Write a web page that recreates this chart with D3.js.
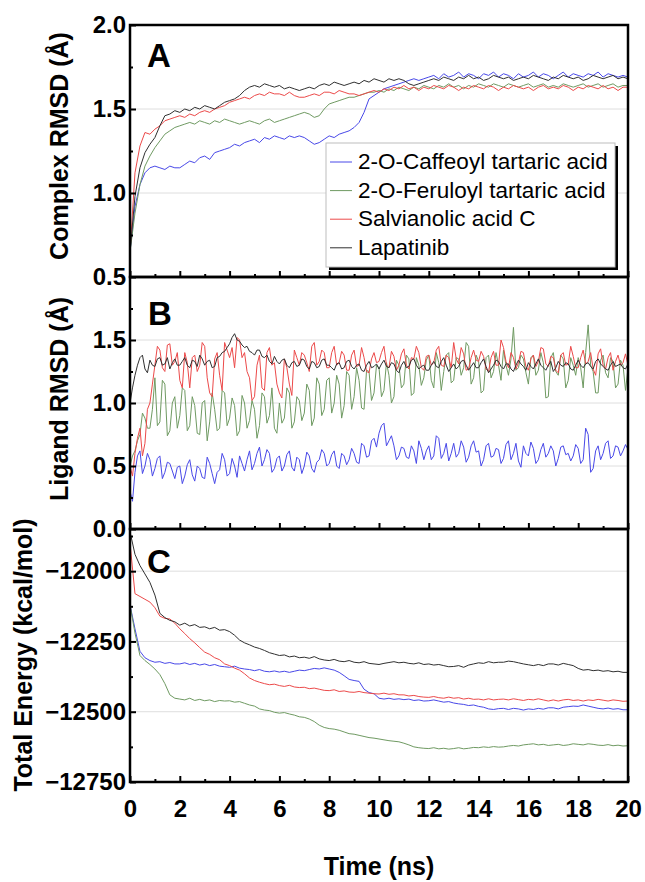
<!DOCTYPE html>
<html><head><meta charset="utf-8">
<script src="https://cdn.jsdelivr.net/npm/d3@7"></script>
<style>html,body{margin:0;padding:0;background:#fff;} svg{display:block;}</style>
</head><body>
<svg id="chart" width="645" height="882"></svg>
<script>
// ---------- DATA ----------
const timeNs = d3.range(101).map(i => +(i * 0.2).toFixed(1));        // panels A and C sampling grid (ns)
const ligandTimeNs = d3.range(201).map(i => +(i * 0.1).toFixed(1));  // panel B sampling grid (ns)
const seriesNames = ["2-O-Caffeoyl tartaric acid", "2-O-Feruloyl tartaric acid", "Salvianolic acid C", "Lapatinib"];
const xTickValues = [0, 2, 4, 6, 8, 10, 12, 14, 16, 18, 20];
const complexTickLabels = [0.5, 1.0, 1.5, 2.0];
const ligandTickLabels = [0.0, 0.5, 1.0, 1.5];
const energyTickLabels = [-12750, -12500, -12250, -12000];

// Panel A: Complex RMSD (Å)
const complexCaffeoyl = [0.65,0.92,1.05,1.12,1.15,1.16,1.15,1.14,1.16,1.15,
1.15,1.17,1.19,1.18,1.21,1.22,1.20,1.24,1.25,1.26,
1.27,1.29,1.28,1.30,1.31,1.32,1.30,1.33,1.32,1.34,
1.33,1.32,1.34,1.33,1.34,1.33,1.31,1.29,1.30,1.32,
1.34,1.33,1.35,1.36,1.37,1.39,1.42,1.48,1.56,1.58,
1.60,1.62,1.63,1.64,1.65,1.66,1.67,1.68,1.67,1.68,
1.69,1.70,1.68,1.71,1.69,1.70,1.72,1.69,1.71,1.70,
1.68,1.71,1.70,1.72,1.69,1.71,1.70,1.68,1.71,1.69,
1.70,1.72,1.69,1.71,1.70,1.68,1.70,1.72,1.69,1.71,
1.70,1.69,1.71,1.70,1.72,1.69,1.71,1.70,1.69,1.70,
1.69];
const complexFeruloyl = [0.65,0.88,1.05,1.16,1.22,1.27,1.31,1.35,1.37,1.39,
1.40,1.41,1.42,1.41,1.43,1.42,1.41,1.43,1.42,1.44,
1.43,1.42,1.41,1.42,1.43,1.42,1.41,1.43,1.44,1.42,
1.43,1.44,1.45,1.46,1.47,1.48,1.47,1.45,1.46,1.50,
1.53,1.54,1.55,1.56,1.57,1.57,1.58,1.59,1.60,1.60,
1.61,1.60,1.62,1.61,1.63,1.62,1.61,1.63,1.62,1.64,
1.63,1.62,1.64,1.63,1.65,1.63,1.64,1.62,1.64,1.63,
1.65,1.64,1.63,1.65,1.64,1.63,1.65,1.64,1.63,1.64,
1.65,1.63,1.64,1.65,1.63,1.64,1.63,1.65,1.64,1.63,
1.64,1.65,1.63,1.64,1.65,1.63,1.64,1.65,1.63,1.64,
1.64];
const complexSalvianolic = [0.65,1.12,1.28,1.36,1.35,1.38,1.40,1.43,1.44,1.45,
1.46,1.45,1.47,1.46,1.48,1.49,1.48,1.50,1.51,1.52,
1.54,1.55,1.56,1.57,1.56,1.58,1.59,1.58,1.60,1.59,
1.59,1.58,1.60,1.58,1.57,1.57,1.58,1.59,1.58,1.60,
1.60,1.59,1.61,1.60,1.59,1.59,1.58,1.59,1.60,1.61,
1.60,1.62,1.61,1.63,1.62,1.64,1.62,1.63,1.61,1.63,
1.62,1.64,1.63,1.62,1.64,1.63,1.61,1.63,1.62,1.64,
1.63,1.62,1.64,1.63,1.61,1.63,1.62,1.64,1.63,1.62,
1.63,1.61,1.63,1.64,1.62,1.63,1.62,1.64,1.63,1.61,
1.63,1.62,1.64,1.63,1.62,1.64,1.62,1.63,1.61,1.63,
1.63];
const complexLapatinib = [0.65,0.98,1.15,1.24,1.29,1.33,1.40,1.46,1.47,1.49,
1.48,1.50,1.49,1.51,1.50,1.52,1.51,1.50,1.52,1.54,
1.55,1.56,1.58,1.61,1.63,1.64,1.63,1.65,1.64,1.63,
1.64,1.62,1.63,1.62,1.61,1.62,1.63,1.62,1.64,1.65,
1.64,1.66,1.65,1.64,1.65,1.66,1.65,1.67,1.66,1.68,
1.67,1.66,1.68,1.67,1.68,1.67,1.65,1.64,1.65,1.66,
1.67,1.68,1.67,1.69,1.68,1.67,1.69,1.68,1.70,1.68,
1.69,1.67,1.68,1.70,1.69,1.68,1.69,1.67,1.68,1.69,
1.68,1.70,1.69,1.68,1.67,1.69,1.68,1.70,1.69,1.68,
1.69,1.67,1.68,1.70,1.69,1.68,1.69,1.70,1.68,1.69,
1.68];

// Panel B: Ligand RMSD (Å), 0.1 ns steps
const ligandCaffeoyl = [
0.30,0.22,0.45,0.58,0.62,0.44,0.50,0.60,0.55,0.42,0.48,0.56,0.58,0.40,0.45,0.53,0.52,0.46,0.40,0.49,
0.50,0.36,0.42,0.51,0.55,0.43,0.38,0.50,0.48,0.41,0.40,0.57,0.52,0.44,0.36,0.45,0.47,0.60,0.55,0.42,
0.44,0.56,0.50,0.41,0.58,0.52,0.46,0.55,0.62,0.47,0.52,0.60,0.65,0.50,0.55,0.63,0.60,0.45,0.48,0.56,
0.58,0.46,0.50,0.59,0.62,0.49,0.46,0.57,0.55,0.44,0.50,0.61,0.58,0.48,0.45,0.53,0.55,0.63,0.60,0.50,
0.52,0.59,0.62,0.50,0.48,0.60,0.58,0.51,0.55,0.64,0.60,0.53,0.52,0.68,0.66,0.57,0.58,0.70,0.72,0.65,
0.76,0.82,0.84,0.66,0.70,0.74,0.66,0.55,0.58,0.65,0.64,0.57,0.56,0.66,0.62,0.52,0.70,0.64,0.55,0.62,
0.66,0.55,0.58,0.74,0.72,0.56,0.60,0.68,0.54,0.60,0.68,0.57,0.60,0.70,0.65,0.53,0.57,0.66,0.70,0.61,
0.62,0.50,0.55,0.66,0.68,0.57,0.58,0.64,0.63,0.52,0.56,0.67,0.70,0.55,0.60,0.68,0.54,0.49,0.66,0.60,
0.58,0.69,0.64,0.52,0.55,0.63,0.68,0.57,0.60,0.66,0.62,0.50,0.56,0.65,0.66,0.59,0.60,0.54,0.58,0.67,
0.64,0.52,0.55,0.80,0.75,0.45,0.48,0.62,0.66,0.55,0.60,0.68,0.70,0.56,0.58,0.66,0.65,0.58,0.62,0.67,
0.63];
const ligandFeruloyl = [
0.50,0.58,0.62,0.70,0.75,0.92,0.88,0.80,0.80,0.95,1.20,0.82,0.85,1.18,1.15,0.74,0.78,1.00,1.05,0.80,
0.90,1.12,1.10,0.78,0.82,1.05,0.98,0.76,0.75,1.00,1.02,0.70,0.85,1.08,0.95,0.78,0.80,1.10,1.08,0.82,
0.88,1.04,0.98,0.74,0.78,1.06,1.00,0.80,0.86,1.02,0.95,0.72,0.82,1.08,1.05,0.84,0.90,1.12,0.80,0.76,
1.00,0.84,0.88,1.12,1.08,0.80,0.85,1.05,1.02,0.86,0.92,1.15,1.10,0.82,0.88,1.20,1.15,0.90,0.95,1.18,
1.20,0.92,1.00,1.22,1.15,0.88,0.98,1.25,1.22,0.95,1.05,1.28,1.18,0.96,0.95,1.26,1.25,1.02,1.08,1.30,
1.28,1.05,1.10,1.32,1.22,1.00,1.05,1.34,1.30,1.12,1.15,1.38,1.35,1.06,1.08,1.36,1.30,1.14,1.20,1.34,
1.38,1.18,1.12,1.40,1.32,1.10,1.25,1.38,1.40,1.16,1.18,1.36,1.35,1.22,1.28,1.48,1.45,1.15,1.20,1.38,
1.33,1.08,1.10,1.36,1.38,1.20,1.25,1.40,1.30,1.18,1.42,1.30,1.22,1.35,1.60,1.26,1.28,1.38,1.35,1.24,
1.15,1.36,1.38,1.22,1.26,1.40,1.32,1.04,1.05,1.36,1.40,1.25,1.22,1.38,1.35,1.12,1.18,1.36,1.30,1.22,
1.36,1.28,1.12,1.40,1.62,1.30,1.25,1.08,1.08,1.34,1.38,1.24,1.20,1.36,1.33,1.12,1.15,1.34,1.30,1.10,
1.28];
const ligandSalvianolic = [
0.50,0.42,0.60,0.72,0.80,0.58,0.68,0.95,1.00,1.15,1.30,1.45,1.42,1.28,1.25,1.46,1.47,1.30,1.33,1.40,
1.18,1.12,1.40,1.32,1.12,1.36,1.38,1.25,1.30,1.48,1.45,1.20,1.08,1.05,1.35,1.40,1.22,1.10,1.48,1.42,
1.36,1.44,1.28,1.52,1.50,1.36,1.40,1.25,1.20,1.02,1.05,1.30,1.38,1.12,1.10,1.40,1.44,1.30,1.32,1.15,
1.08,1.04,1.35,1.28,1.15,1.06,1.42,1.36,1.30,1.40,1.38,1.32,1.25,1.45,1.48,1.30,1.33,1.42,1.40,1.28,
1.28,1.40,1.45,1.30,1.32,1.41,1.38,1.26,1.26,1.38,1.42,1.29,1.30,1.44,1.36,1.25,1.24,1.35,1.40,1.32,
1.33,1.40,1.45,1.30,1.28,1.41,1.37,1.26,1.30,1.39,1.43,1.30,1.27,1.36,1.35,1.45,1.40,1.28,1.26,1.37,
1.38,1.30,1.32,1.42,1.45,1.30,1.29,1.38,1.36,1.28,1.48,1.35,1.31,1.44,1.39,1.26,1.27,1.36,1.42,1.34,
1.33,1.41,1.37,1.27,1.25,1.36,1.41,1.30,1.30,1.50,1.44,1.33,1.28,1.40,1.36,1.27,1.32,1.41,1.40,1.29,
1.26,1.35,1.38,1.29,1.33,1.44,1.43,1.31,1.29,1.37,1.36,1.26,1.24,1.38,1.40,1.30,1.31,1.45,1.37,1.28,
1.28,1.36,1.42,1.31,1.33,1.40,1.27,1.22,1.39,1.43,1.30,1.27,1.36,1.40,1.26,1.33,1.38,1.30,1.32,1.39,
1.30];
const ligandLapatinib = [
1.00,1.12,1.22,1.30,1.36,1.38,1.27,1.24,1.34,1.30,1.29,1.35,1.36,1.30,1.31,1.36,1.27,1.32,1.35,1.30,
1.30,1.33,1.36,1.30,1.28,1.34,1.33,1.29,1.38,1.35,1.30,1.33,1.34,1.28,1.29,1.36,1.37,1.40,1.41,1.44,
1.47,1.52,1.55,1.50,1.49,1.46,1.44,1.45,1.41,1.40,1.38,1.42,1.42,1.37,1.36,1.38,1.33,1.31,1.37,1.33,
1.31,1.34,1.35,1.30,1.28,1.32,1.33,1.29,1.30,1.35,1.34,1.29,1.27,1.33,1.32,1.28,1.29,1.34,1.35,1.30,
1.30,1.28,1.26,1.31,1.32,1.27,1.28,1.33,1.34,1.29,1.27,1.30,1.31,1.26,1.25,1.30,1.33,1.28,1.29,1.31,
1.27,1.31,1.34,1.29,1.28,1.32,1.31,1.26,1.24,1.30,1.33,1.28,1.29,1.34,1.35,1.30,1.27,1.29,1.30,1.26,
1.26,1.30,1.33,1.29,1.28,1.33,1.36,1.30,1.25,1.28,1.31,1.27,1.29,1.33,1.34,1.30,1.26,1.29,1.32,1.28,
1.28,1.32,1.35,1.29,1.24,1.27,1.30,1.34,1.33,1.29,1.27,1.31,1.31,1.27,1.25,1.30,1.34,1.31,1.29,1.26,
1.32,1.29,1.27,1.31,1.35,1.30,1.28,1.26,1.30,1.33,1.25,1.28,1.33,1.30,1.29,1.32,1.31,1.27,1.26,1.30,
1.34,1.30,1.28,1.31,1.32,1.29,1.27,1.33,1.35,1.31,1.29,1.27,1.26,1.30,1.33,1.29,1.30,1.31,1.28,1.27,
1.31];

// Panel C: Total Energy (kcal/mol)
const energyCaffeoyl = [-12120,-12205,-12285,-12308,-12318,-12324,-12322,-12328,-12325,-12330,
-12330,-12326,-12332,-12328,-12334,-12330,-12336,-12332,-12338,-12340,
-12342,-12338,-12345,-12348,-12350,-12354,-12350,-12356,-12358,-12355,
-12359,-12356,-12360,-12356,-12352,-12354,-12350,-12346,-12348,-12344,
-12348,-12352,-12360,-12372,-12385,-12389,-12392,-12420,-12432,-12436,
-12452,-12455,-12452,-12456,-12454,-12457,-12455,-12460,-12458,-12462,
-12461,-12458,-12462,-12466,-12464,-12469,-12472,-12474,-12478,-12476,
-12481,-12484,-12490,-12492,-12489,-12488,-12492,-12488,-12490,-12494,
-12490,-12492,-12488,-12491,-12486,-12486,-12490,-12484,-12482,-12480,
-12481,-12476,-12480,-12484,-12488,-12490,-12487,-12491,-12489,-12493,
-12493];
const energyFeruloyl = [-12120,-12220,-12300,-12318,-12332,-12348,-12368,-12400,-12440,-12452,
-12455,-12458,-12452,-12460,-12456,-12461,-12458,-12464,-12460,-12462,
-12461,-12466,-12464,-12470,-12476,-12480,-12490,-12494,-12496,-12502,
-12505,-12503,-12508,-12512,-12518,-12520,-12526,-12535,-12548,-12556,
-12560,-12562,-12566,-12572,-12578,-12580,-12584,-12588,-12592,-12594,
-12597,-12600,-12603,-12605,-12607,-12612,-12618,-12625,-12628,-12630,
-12631,-12628,-12632,-12630,-12633,-12631,-12628,-12632,-12630,-12627,
-12628,-12625,-12627,-12624,-12626,-12625,-12622,-12620,-12622,-12618,
-12616,-12614,-12618,-12616,-12620,-12618,-12616,-12620,-12618,-12614,
-12616,-12618,-12614,-12616,-12619,-12620,-12617,-12621,-12619,-12622,
-12621];
const energySalvianolic = [-11900,-12080,-12090,-12100,-12110,-12130,-12160,-12168,-12170,-12185,
-12205,-12222,-12240,-12255,-12272,-12288,-12296,-12308,-12315,-12330,
-12336,-12345,-12352,-12365,-12380,-12389,-12395,-12400,-12404,-12402,
-12407,-12410,-12406,-12412,-12414,-12413,-12418,-12416,-12420,-12424,
-12425,-12422,-12428,-12426,-12430,-12431,-12428,-12432,-12434,-12436,
-12437,-12434,-12438,-12436,-12440,-12440,-12444,-12442,-12446,-12448,
-12449,-12446,-12450,-12452,-12448,-12452,-12450,-12455,-12452,-12456,
-12455,-12458,-12454,-12458,-12456,-12455,-12458,-12454,-12457,-12460,
-12456,-12458,-12454,-12458,-12462,-12458,-12462,-12458,-12456,-12460,
-12458,-12462,-12458,-12460,-12456,-12459,-12462,-12458,-12460,-12463,
-12462];
const energyLapatinib = [-11860,-11940,-11980,-12010,-12040,-12085,-12150,-12165,-12175,-12180,
-12192,-12185,-12195,-12190,-12200,-12198,-12205,-12200,-12210,-12208,
-12215,-12228,-12245,-12255,-12262,-12270,-12275,-12282,-12290,-12295,
-12300,-12298,-12305,-12302,-12308,-12306,-12310,-12304,-12312,-12316,
-12318,-12314,-12320,-12322,-12318,-12324,-12326,-12322,-12328,-12330,
-12332,-12328,-12325,-12322,-12326,-12324,-12328,-12330,-12326,-12332,
-12330,-12334,-12332,-12336,-12340,-12339,-12336,-12342,-12334,-12330,
-12326,-12328,-12322,-12326,-12324,-12324,-12320,-12322,-12326,-12330,
-12333,-12336,-12332,-12336,-12330,-12330,-12334,-12328,-12332,-12336,
-12346,-12352,-12350,-12354,-12352,-12356,-12354,-12358,-12356,-12360,
-12360];

// ---------- STYLE ----------
const FONT = '"Liberation Sans", Arial, Helvetica, sans-serif';
const seriesColors = ["#4848e8", "#6f9a62", "#ec4a4a", "#303030"];

const svg = d3.select('#chart');
const plotLeft = 130, plotRight = 628;
const x = d3.scaleLinear().domain([0, 20]).range([plotLeft, plotRight]);

const panels = [
  { letter: 'A', top: 25, bottom: 277, domain: [0.5, 2.0], time: timeNs,
    labels: complexTickLabels, minor: [0.75, 1.25, 1.75], grid: [1.0, 1.5],
    fmt: d3.format('.1f'), title: 'Complex RMSD (Å)', titleX: 68, titleY: 146,
    letterX: 147, letterY: 67,
    series: [complexCaffeoyl, complexFeruloyl, complexSalvianolic, complexLapatinib] },
  { letter: 'B', top: 277, bottom: 529, domain: [0, 2.0], time: ligandTimeNs,
    labels: ligandTickLabels, minor: [0.25, 0.75, 1.25, 1.75], grid: [0.5, 1.0, 1.5],
    fmt: d3.format('.1f'), title: 'Ligand RMSD (Å)', titleX: 68, titleY: 399,
    letterX: 148, letterY: 325,
    series: [ligandCaffeoyl, ligandFeruloyl, ligandSalvianolic, ligandLapatinib] },
  { letter: 'C', top: 529, bottom: 782, domain: [-12750, -11850], time: timeNs,
    labels: energyTickLabels, minor: [-12625, -12375, -12125, -11875], grid: [-12500, -12250, -12000],
    fmt: d3.format('d'), title: 'Total Energy (kcal/mol)', titleX: 32, titleY: 655,
    letterX: 147, letterY: 573,
    series: [energyCaffeoyl, energyFeruloyl, energySalvianolic, energyLapatinib] }
];

panels.forEach((p, pi) => {
  const y = d3.scaleLinear().domain(p.domain).range([p.bottom, p.top]);
  const g = svg.append('g');

  g.selectAll('line.grid').data(p.grid).join('line')
    .attr('x1', plotLeft).attr('x2', plotRight)
    .attr('y1', d => y(d)).attr('y2', d => y(d))
    .attr('stroke', '#dedede').attr('stroke-width', 1);

  const clipId = 'clip' + pi;
  svg.append('clipPath').attr('id', clipId).append('rect')
    .attr('x', plotLeft).attr('y', p.top).attr('width', plotRight - plotLeft).attr('height', p.bottom - p.top);

  const line = d3.line().x((d, i) => x(p.time[i])).y(d => y(d));
  const lg = g.append('g').attr('clip-path', `url(#${clipId})`);
  p.series.forEach((s, si) => {
    lg.append('path').datum(s).attr('d', line)
      .attr('fill', 'none').attr('stroke', seriesColors[si]).attr('stroke-width', 1)
      .attr('stroke-linejoin', 'round');
  });

  const yAx = g.append('g').attr('transform', `translate(${plotLeft},0)`)
    .call(d3.axisLeft(y).tickValues(p.labels).tickSize(-6).tickPadding(4).tickFormat(p.fmt));
  yAx.select('.domain').remove();
  yAx.selectAll('line').attr('stroke', '#000').attr('stroke-width', 2);
  yAx.selectAll('text').attr('font-family', FONT).attr('font-size', 24).attr('font-weight', 'bold').attr('fill', '#000');
  const yMin = g.append('g').attr('transform', `translate(${plotLeft},0)`)
    .call(d3.axisLeft(y).tickValues(p.minor).tickSize(-3).tickFormat(''));
  yMin.select('.domain').remove();
  yMin.selectAll('line').attr('stroke', '#000').attr('stroke-width', 2);

  const isLast = pi === panels.length - 1;
  const xAx = g.append('g').attr('transform', `translate(0,${p.bottom})`)
    .call(d3.axisBottom(x).tickValues(xTickValues).tickSize(-6).tickPadding(18)
      .tickFormat(isLast ? d3.format('d') : ''));
  xAx.select('.domain').remove();
  xAx.selectAll('line').attr('stroke', '#000').attr('stroke-width', 2);
  xAx.selectAll('text').attr('font-family', FONT).attr('font-size', 24).attr('font-weight', 'bold').attr('fill', '#000');
  const xMin = g.append('g').attr('transform', `translate(0,${p.bottom})`)
    .call(d3.axisBottom(x).tickValues(d3.range(1, 20, 2)).tickSize(-3).tickFormat(''));
  xMin.select('.domain').remove();
  xMin.selectAll('line').attr('stroke', '#000').attr('stroke-width', 2);

  g.append('rect').attr('x', plotLeft).attr('y', p.top)
    .attr('width', plotRight - plotLeft).attr('height', p.bottom - p.top)
    .attr('fill', 'none').attr('stroke', '#000').attr('stroke-width', 2.5);

  g.append('text').attr('x', p.letterX).attr('y', p.letterY).text(p.letter)
    .attr('font-family', FONT).attr('font-size', 33).attr('font-weight', 'bold');

  g.append('text').attr('transform', `translate(${p.titleX},${p.titleY}) rotate(-90)`)
    .attr('text-anchor', 'middle').text(p.title)
    .attr('font-family', FONT).attr('font-size', 25).attr('font-weight', 'bold');
});

svg.append('text').attr('x', (plotLeft + plotRight) / 2).attr('y', 875).attr('text-anchor', 'middle')
  .text('Time (ns)').attr('font-family', FONT).attr('font-size', 25).attr('font-weight', 'bold');

// legend
const leg = svg.append('g');
const lx = 326, ly = 143, lw = 289, lh = 124;
leg.append('rect').attr('x', lx + 3).attr('y', ly + 3).attr('width', lw).attr('height', lh).attr('fill', '#000');
leg.append('rect').attr('x', lx).attr('y', ly).attr('width', lw).attr('height', lh)
  .attr('fill', '#fff').attr('stroke', '#bdbdbd').attr('stroke-width', 1);
seriesNames.forEach((name, i) => {
  const by = 169 + i * 28.6;
  leg.append('line').attr('x1', 330).attr('x2', 352).attr('y1', by - 7).attr('y2', by - 7)
    .attr('stroke', seriesColors[i]).attr('stroke-width', 1);
  leg.append('text').attr('x', 358).attr('y', by).text(name)
    .attr('font-family', FONT).attr('font-size', 22.5).attr('fill', '#000');
});
</script>
</body></html>
